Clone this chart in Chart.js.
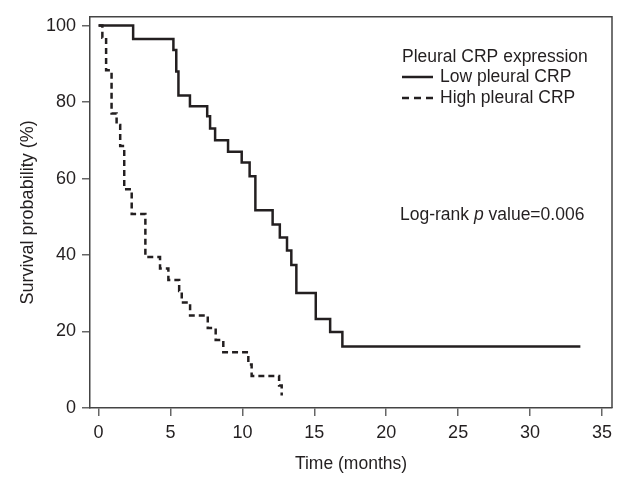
<!DOCTYPE html>
<html>
<head>
<meta charset="utf-8">
<script src="https://cdn.jsdelivr.net/npm/chart.js@4.4.0/dist/chart.umd.min.js"></script>
<style>
    html, body { margin: 0; padding: 0; background: #fff; }
    #wrap { width: 624px; height: 477px; }
</style>
</head>
<body>
<div id="wrap"><canvas id="kmChart" width="624" height="477"></canvas></div>
<script>
// Kaplan-Meier steps (months, %)
const lowTimes     = [0, 2.4, 5.2, 5.4, 5.55, 6.35, 7.55, 7.75, 8.1, 9.0, 9.95, 10.5, 10.9, 12.1, 12.6, 13.1, 13.4, 13.75, 15.1, 16.1, 16.95, 33.5];
const lowSurvival  = [100, 96.5, 93.6, 88.0, 81.7, 78.9, 76.3, 73.1, 70.0, 67.0, 64.2, 60.6, 51.7, 48.0, 44.6, 41.2, 37.4, 30.1, 23.3, 19.9, 16.1, 16.1];
const highTimes    = [0, 0.26, 0.52, 0.9, 1.25, 1.5, 1.78, 2.3, 3.25, 4.27, 4.85, 5.6, 5.78, 6.36, 7.59, 8.14, 8.67, 10.41, 10.64, 12.55, 12.73];
const highSurvival = [100, 96.8, 88.3, 77.0, 74.0, 68.5, 57.2, 50.7, 39.5, 36.5, 33.5, 30.6, 27.6, 24.2, 20.9, 17.8, 14.6, 11.4, 8.4, 5.9, 3.3];

const xTicks = [0, 5, 10, 15, 20, 25, 30, 35];
const yTicks = [0, 20, 40, 60, 80, 100];
const seriesNames = ['Low pleural CRP', 'High pleural CRP'];
const legendTitle = 'Pleural CRP expression';
const pValueText = ['Log-rank ', 'p', ' value=0.006'];

const FONT = '"Liberation Sans Narrow", "Arial Narrow", "Liberation Sans", Arial, sans-serif';
const INK = '#231f20';

function toPoints(times, values) {
    return times.map((t, i) => ({ x: t, y: values[i] }));
}

// cadre + légende + texte du test
const extrasPlugin = {
    id: 'extras',
    afterDraw(chart) {
        const ctx = chart.ctx;
        const area = chart.chartArea;
        ctx.save();

        // bord haut et droit
        ctx.strokeStyle = '#444';
        ctx.lineWidth = 1.5;
        ctx.beginPath();
        ctx.moveTo(area.left, area.top);
        ctx.lineTo(area.right, area.top);
        ctx.lineTo(area.right, area.bottom);
        ctx.stroke();

        ctx.fillStyle = INK;
        ctx.textBaseline = 'middle';
        ctx.font = '17.5px ' + FONT;
        ctx.fillText(legendTitle, 402, 57);

        ctx.strokeStyle = INK;
        ctx.lineWidth = 2.5;
        ctx.beginPath();
        ctx.moveTo(402, 77);
        ctx.lineTo(433, 77);
        ctx.stroke();
        ctx.fillText(seriesNames[0], 440, 77);

        ctx.setLineDash([7, 5]);
        ctx.beginPath();
        ctx.moveTo(402, 98);
        ctx.lineTo(433, 98);
        ctx.stroke();
        ctx.setLineDash([]);
        ctx.fillText(seriesNames[1], 440, 98);

        // Log-rank p value
        let x = 400;
        const y = 215;
        ctx.font = '17.5px ' + FONT;
        ctx.fillText(pValueText[0], x, y);
        x += ctx.measureText(pValueText[0]).width;
        ctx.font = 'italic 17.5px ' + FONT;
        ctx.fillText(pValueText[1], x, y);
        x += ctx.measureText(pValueText[1]).width;
        ctx.font = '17.5px ' + FONT;
        ctx.fillText(pValueText[2], x, y);

        ctx.restore();
    }
};

const kmConfig = {
    type: 'line',
    data: {
        datasets: [
            {
                label: seriesNames[0],
                data: toPoints(lowTimes, lowSurvival),
                borderColor: INK,
                borderWidth: 2.5,
                stepped: 'before',
                pointRadius: 0,
                fill: false
            },
            {
                label: seriesNames[1],
                data: toPoints(highTimes, highSurvival),
                borderColor: INK,
                borderWidth: 2.5,
                borderDash: [6, 4],
                stepped: 'before',
                pointRadius: 0,
                fill: false
            }
        ]
    },
    options: {
        responsive: false,
        animation: false,
        devicePixelRatio: 1,
        layout: {
            padding: { top: 7, right: 12, left: 0, bottom: 0 }
        },
        plugins: {
            legend: { display: false },
            tooltip: { enabled: false }
        },
        scales: {
            x: {
                type: 'linear',
                min: -0.6,
                max: 35.7,
                afterFit: function(scale) { scale.height = 69; },
                afterBuildTicks: function(scale) {
                    scale.ticks = xTicks.map(v => ({ value: v }));
                },
                ticks: {
                    color: INK,
                    padding: 6,
                    font: { family: FONT, size: 18 }
                },
                grid: {
                    drawOnChartArea: false,
                    drawTicks: true,
                    tickLength: 8,
                    color: '#666',
                    lineWidth: 1.5
                },
                border: { display: true, color: '#444', width: 1.5 },
                title: {
                    display: true,
                    text: 'Time (months)',
                    color: INK,
                    padding: { top: 0, bottom: 2 },
                    font: { family: FONT, size: 17.5 }
                }
            },
            y: {
                type: 'linear',
                min: 0,
                max: 102.3,
                afterFit: function(scale) { scale.width = 90; },
                afterBuildTicks: function(scale) {
                    scale.ticks = yTicks.map(v => ({ value: v }));
                },
                ticks: {
                    color: INK,
                    padding: 6,
                    font: { family: FONT, size: 18 }
                },
                grid: {
                    drawOnChartArea: false,
                    drawTicks: true,
                    tickLength: 8,
                    color: '#666',
                    lineWidth: 1.5
                },
                border: { display: true, color: '#444', width: 1.5 },
                title: {
                    display: true,
                    text: 'Survival probability (%)',
                    color: INK,
                    padding: { top: 17, bottom: 0 },
                    font: { family: FONT, size: 18 }
                }
            }
        }
    },
    plugins: [extrasPlugin]
};

const kmChart = new Chart(document.getElementById('kmChart'), kmConfig);
</script>
</body>
</html>
